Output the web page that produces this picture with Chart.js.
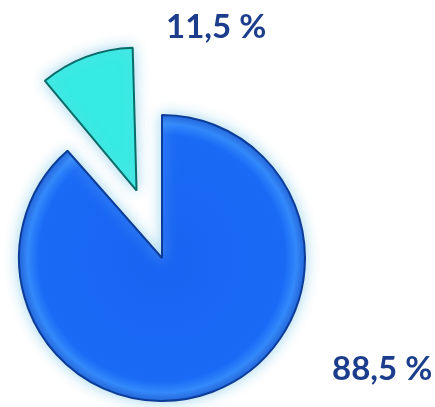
<!DOCTYPE html>
<html>
<head>
<meta charset="utf-8">
<script src="https://cdn.jsdelivr.net/npm/chart.js@4/dist/chart.umd.min.js"></script>
<style>
  html, body { margin: 0; padding: 0; background: #ffffff; overflow: hidden; }
  #wrap { position: relative; width: 435px; height: 407px; }
  canvas { position: absolute; left: 0; top: 0; }
  .lbl { position: absolute; font-family: Lato, "Open Sans", sans-serif; font-weight: 700;
         font-size: 33px; line-height: 33px; color: #1b3d8c; white-space: nowrap; }
</style>
</head>
<body>
<div id="wrap">
  <canvas id="c" width="435" height="407"></canvas>
  <div class="lbl" id="l0"></div>
  <div class="lbl" id="l1"></div>
</div>
<script>
const categories = ["A", "B"];
const values = [88.5, 11.5];
const valueLabels = ["88,5 %", "11,5 %"];
const sliceColors = ["#1a68f5", "#35ebe3"];
const borderColors = ["#0c3c98", "#0a6b68"];
const offsets = [0, 288];
const pieRadius = 143;

document.getElementById('l0').textContent = valueLabels[0];
document.getElementById('l1').textContent = valueLabels[1];
const l0 = document.getElementById('l0'); l0.style.left = '332px'; l0.style.top = '351px';
const l1 = document.getElementById('l1'); l1.style.left = '166px'; l1.style.top = '9px';

// Chart.js enlarges an exploded slice's radius; keep all slices at the same radius.
const keepRadius = {
  id: 'keepRadius',
  afterDatasetUpdate(chart, args) {
    const meta = args.meta;
    meta.data.forEach((arc, i) => {
      const off = (offsets[i] || 0) / 4;
      const circ = arc.endAngle - arc.startAngle;
      const fix = 1 - Math.sin(Math.min(Math.PI, circ || 0));
      arc.outerRadius = pieRadius - off * fix;
    });
  }
};

const glow = {
  id: 'glow',
  beforeDatasetsDraw(chart) {
    const ctx = chart.ctx;
    ctx.save();
    ctx.shadowColor = 'rgba(150,210,235,0.9)';
    ctx.shadowBlur = 14;
  },
  afterDatasetsDraw(chart) {
    chart.ctx.restore();
  }
};

function sliceFill(context) {
  const chart = context.chart;
  const area = chart.chartArea;
  const i = context.dataIndex;
  if (!area) return sliceColors[i];
  const cx = (area.left + area.right) / 2;
  const cy = (area.top + area.bottom) / 2;
  const r = pieRadius;
  if (i === 0) {
    const g = chart.ctx.createRadialGradient(cx, cy, 0, cx, cy, r);
    g.addColorStop(0, '#1864f2');
    g.addColorStop(0.86, '#1a6af6');
    g.addColorStop(0.94, '#2f86fb');
    g.addColorStop(1, '#1558da');
    return g;
  }
  return sliceColors[i];
}

new Chart(document.getElementById('c'), {
  type: 'pie',
  data: {
    labels: categories,
    datasets: [{
      data: values,
      backgroundColor: sliceFill,
      borderColor: borderColors,
      borderWidth: 2,
      offset: offsets,
      hoverOffset: 0,
      radius: pieRadius
    }]
  },
  options: {
    responsive: false,
    animation: false,
    layout: { padding: { left: 0, right: 111, top: 109, bottom: 0 } },
    plugins: { legend: { display: false }, tooltip: { enabled: false } },
    events: []
  },
  plugins: [keepRadius, glow]
});
</script>
</body>
</html>
